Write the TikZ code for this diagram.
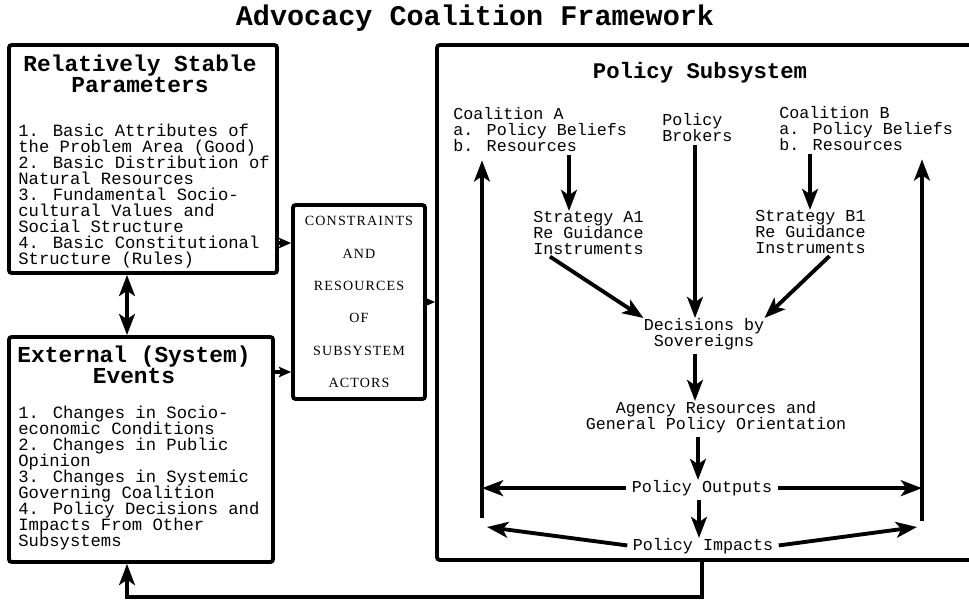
\documentclass[tikz,border=0pt]{standalone}
\usepackage{fontspec}
\setmainfont{Liberation Mono}
\newfontfamily\capsfont[LetterSpace=8]{Liberation Serif}
\usetikzlibrary{arrows.meta, positioning}
\lineskiplimit=-9pt

\tikzset{
  box/.style={draw, line width=2.2pt, rounded corners=1.5pt, inner sep=0pt},
  arr/.style={line width=2.2pt, shorten <=2pt, -{Stealth[length=12pt, width=9pt, inset=3pt]}},
  darr/.style={line width=2.2pt, {Stealth[length=12pt, width=9pt, inset=3pt]}-{Stealth[length=12pt, width=9pt, inset=3pt]}},
  barr/.style={line width=2.2pt, -{Stealth[length=7pt, width=6pt, inset=1.5pt]}},
  head/.style={anchor=north, inner sep=0pt, align=center, font=\fontsize{13}{12}\selectfont\bfseries},
  body/.style={anchor=north west, inner sep=0pt, align=left, font=\fontsize{9.8}{9.1}\selectfont},
  sub/.style={inner sep=0pt, align=left, font=\fontsize{9.5}{9}\selectfont},
}

\begin{document}
\begin{tikzpicture}[x=0.02cm, y=-0.02cm]
  \useasboundingbox (0,0) rectangle (969,599);
  % title
  \node[font=\fontsize{16.2}{18}\selectfont\bfseries] (title) at (475,18) {Advocacy Coalition Framework};
  % the four boxes
  \node[box, minimum width=5.36cm, minimum height=4.56cm] (rsp) at (143,159) {};
  \node[box, minimum width=5.28cm, minimum height=4.5cm] (ee) at (141,449.5) {};
  \node[box, minimum width=2.64cm, minimum height=3.88cm] (con) at (359,302) {};
  \node[box, minimum width=10.96cm, minimum height=10.3cm] (ps) at (711,302.5) {};
  % left boxes: headings and lists
  \node[head] (rsphead) at (140,55) {Relatively Stable\\Parameters};
  \node[body] (rspbody) at (18,124) {1. Basic Attributes of\\the Problem Area (Good)\\2. Basic Distribution of\\Natural Resources\\3. Fundamental Socio-\\cultural Values and\\Social Structure\\4. Basic Constitutional\\Structure (Rules)};
  \node[head] (eehead) at (134,346) {External (System)\\Events};
  \node[body] (eebody) at (18,406) {1. Changes in Socio-\\economic Conditions\\2. Changes in Public\\Opinion\\3. Changes in Systemic\\Governing Coalition\\4. Policy Decisions and\\Impacts From Other\\Subsystems};
  % middle box
  \node[align=center, inner sep=0pt, font=\capsfont\fontsize{8}{18.4}\selectfont] (contxt) at (con) {CONSTRAINTS\\AND\\RESOURCES\\OF\\SUBSYSTEM\\ACTORS};
  % policy subsystem contents
  \node[head, font=\fontsize{12.7}{12}\selectfont\bfseries] (pshead) at (700,62) {Policy Subsystem};
  \node[sub, anchor=north west] (coalA) at (453,107) {Coalition A\\a. Policy Beliefs\\b. Resources};
  \node[sub, anchor=north west] (brokers) at (662,113) {Policy\\Brokers};
  \node[sub, anchor=north west] (coalB) at (779,106) {Coalition B\\a. Policy Beliefs\\b. Resources};
  \node[sub, anchor=north west] (stratA) at (533,211) {Strategy A1\\Re Guidance\\Instruments};
  \node[sub, anchor=north west] (stratB) at (755,210) {Strategy B1\\Re Guidance\\Instruments};
  \node[sub, anchor=north, align=center] (decide) at (704,318) {Decisions by\\Sovereigns};
  \node[sub, anchor=north, align=center] (agency) at (716,401) {Agency Resources and\\General Policy Orientation};
  \node[sub, anchor=north] (outputs) at (702,480) {Policy Outputs};
  \node[sub, anchor=north] (impacts) at (703,538) {Policy Impacts};
  % free ends
  \coordinate (lbot) at (482,522);
  \coordinate (rbot) at (922,525);
  \coordinate (limp) at (487,527);
  \coordinate (rimp) at (917,527);
  \coordinate (fbr) at (702,597);
  \coordinate (fbl) at (127,597);
  % between the boxes
  \draw[darr] (rsp.south -| fbl) -- (ee.north -| fbl);
  \draw[barr] (rsp.east |- 0,243) -- (con.west |- 0,243);
  \draw[barr] (ee.east |- 0,372) -- (con.west |- 0,372);
  \draw[barr] (con.east) -- (ps.west |- con.east);
  % inside the subsystem
  \draw[arr] (coalA.south -| 569,0) -- (stratA.north -| 569,0);
  \draw[arr] (coalB.south -| 810,0) -- (stratB.north -| 810,0);
  \draw[arr] (brokers.south -| 695,0) -- (decide.north -| 695,0);
  \draw[arr] (stratA.south -| 547,0) -- (decide.north west);
  \draw[arr] (stratB.south -| 832,0) -- (decide.north east);
  \draw[arr] (decide.south -| 695,0) -- (agency.north -| 695,0);
  \draw[arr] (agency.south -| 698,0) -- (outputs.north -| 698,0);
  \draw[arr] (outputs.south -| 699,0) -- (impacts.north -| 699,0);
  % outputs and impacts back to the coalitions
  \draw[arr, shorten >=5pt] (lbot) -- (coalA.south -| lbot);
  \draw[arr, shorten >=5pt] (rbot) -- (coalB.south -| rbot);
  \draw[arr, shorten <=3pt] (outputs.west) -- (outputs.west -| lbot);
  \draw[arr, shorten <=3pt] (outputs.east) -- (outputs.east -| rbot);
  \draw[arr, shorten <=3pt] (impacts.west) -- (limp);
  \draw[arr, shorten <=3pt] (impacts.east) -- (rimp);
  % feedback to external events
  \draw[arr, shorten <=0pt] (ps.south -| fbr) -- (fbr) -- (fbl) -- (ee.south -| fbl);
\end{tikzpicture}
\end{document}
